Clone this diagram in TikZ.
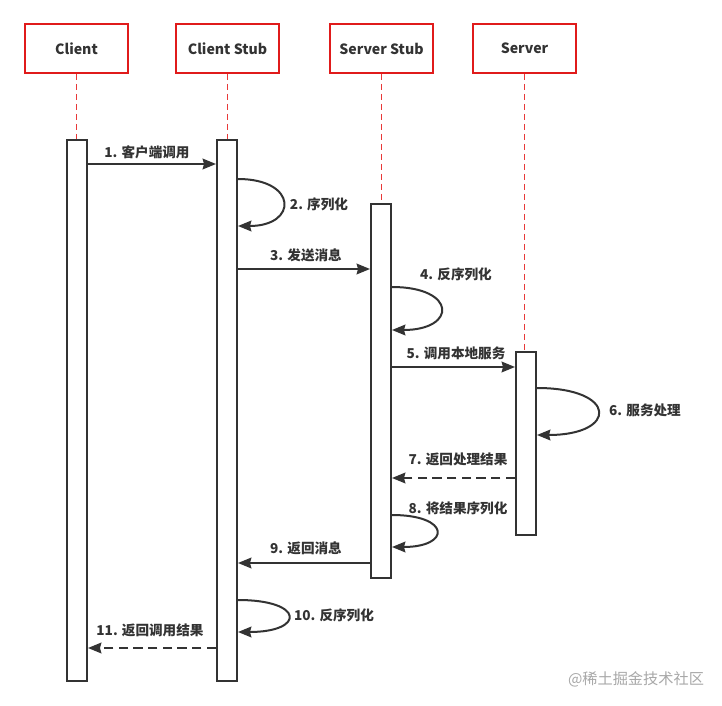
\documentclass[tikz,border=0pt]{standalone}
\usepackage{fontspec}
\setmainfont{Noto Sans CJK SC}
\usetikzlibrary{arrows.meta,fit}
\definecolor{boxred}{HTML}{E01B1B}
\definecolor{lifered}{HTML}{E83838}
\definecolor{ink}{HTML}{333333}
\definecolor{wm}{HTML}{A8A8A8}
\begin{document}
\begin{tikzpicture}[x=0.75pt,y=-0.75pt,
 hdr/.style={draw=boxred,line width=1.5pt,fill=white,minimum width=77pt,minimum height=36.5pt,font=\bfseries\fontsize{10.6}{12}\selectfont,text=ink,inner sep=0pt},
 act/.style={draw=ink,line width=1.5pt,fill=white,inner sep=0pt},
 life/.style={draw=lifered,line width=1.4pt,dash pattern=on 4.5pt off 3pt},
 msg/.style={draw=ink,line width=1.5pt,-{Stealth[length=10pt,width=8pt,inset=1pt]}},
 ret/.style={msg,dash pattern=on 7pt off 4pt},
 lbl/.style={text=ink,font=\bfseries\fontsize{10.2}{12}\selectfont,inner sep=0pt}]
\useasboundingbox[fill=white] (0,0) rectangle (722,706);
% headers
\node[hdr] (hC) at (76.5,48.5) {Client};
\node[hdr] (hCS) at (227.5,48.5) {Client Stub};
\node[hdr] (hSS) at (381.5,48.5) {Server Stub};
\node[hdr] (hS) at (524.5,48.5) {Server};
% activation bars (defined first for lifeline ends)
\path (67,140) coordinate (c1) (87,681) coordinate (c2)
      (217,140) coordinate (cs1) (237,681) coordinate (cs2)
      (371,204) coordinate (ss1) (391,578) coordinate (ss2)
      (516,352) coordinate (s1) (536,535) coordinate (s2);
\draw[life] (hC.south) -- (hC.south |- c1);
\draw[life] (hCS.south) -- (hCS.south |- cs1);
\draw[life] (hSS.south) -- (hSS.south |- ss1);
\draw[life] (hS.south) -- (hS.south |- s1);
\node[act,fit=(c1)(c2)] (aC) {};
\node[act,fit=(cs1)(cs2)] (aCS) {};
\node[act,fit=(ss1)(ss2)] (aSS) {};
\node[act,fit=(s1)(s2)] (aS) {};
% messages
\draw[msg] (aC.east |- 0,164) -- (aCS.west |- 0,164);
\node[lbl] (l1) at (147,152) {1. 客户端调用};
\draw[msg] (aCS.east |- 0,179) .. controls +(60,0) and +(60,0) .. (aCS.east |- 0,226);
\node[lbl] (l2) at (319,204) {2. 序列化};
\draw[msg] (aCS.east |- 0,269) -- (aSS.west |- 0,269);
\node[lbl] (l3) at (306,255) {3. 发送消息};
\draw[msg] (aSS.east |- 0,287) .. controls +(65,0) and +(65,0) .. (aSS.east |- 0,330);
\node[lbl] (l4) at (456,274) {4. 反序列化};
\draw[msg] (aSS.east |- 0,367) -- (aS.west |- 0,367);
\node[lbl] (l5) at (456,353) {5. 调用本地服务};
\draw[msg] (aS.east |- 0,388) .. controls +(81,0) and +(81,0) .. (aS.east |- 0,435);
\node[lbl] (l6) at (645,410) {6. 服务处理};
\draw[ret] (aS.west |- 0,478) -- (aSS.east |- 0,478);
\node[lbl] (l7) at (458,459) {7. 返回处理结果};
\draw[msg] (aSS.east |- 0,515) .. controls +(59,0) and +(59,0) .. (aSS.east |- 0,547);
\node[lbl] (l8) at (458,508) {8. 将结果序列化};
\draw[msg] (aSS.west |- 0,563) -- (aCS.east |- 0,563);
\node[lbl] (l9) at (306,548) {9. 返回消息};
\draw[msg] (aCS.east |- 0,600) .. controls +(67,0) and +(67,0) .. (aCS.east |- 0,632);
\node[lbl] (l10) at (334,615) {10. 反序列化};
\draw[ret] (aCS.west |- 0,648) -- (aC.east |- 0,648);
\node[lbl] (l11) at (150,630) {11. 返回调用结果};
\node[text=wm,font=\fontsize{11.4}{13}\selectfont,inner sep=0pt] (wmk) at (636,679) {@稀土掘金技术社区};
\end{tikzpicture}
\end{document}
